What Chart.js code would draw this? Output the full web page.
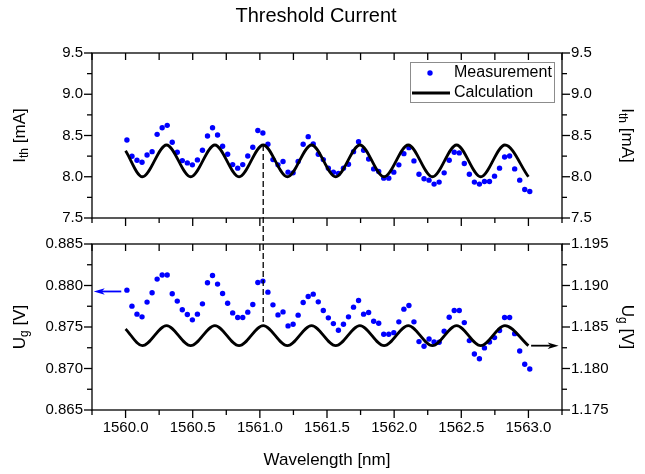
<!DOCTYPE html>
<html>
<head>
<meta charset="utf-8">
<title>Threshold Current</title>
<script src="https://cdn.jsdelivr.net/npm/chart.js@4.4.1/dist/chart.umd.min.js"></script>
<style>
  html, body { margin: 0; padding: 0; background: #fff; }
  #wrap { position: relative; width: 645px; height: 474px; }
  #wrap canvas { position: absolute; left: 0; top: 0; }
</style>
</head>
<body>
<div id="wrap">
  <canvas id="topPanel" width="645" height="474"></canvas>
  <canvas id="bottomPanel" width="645" height="474"></canvas>
</div>
<script>
// measured points (wavelength in nm)
const wavelength = [
  1560.0100, 1560.0475, 1560.0850, 1560.1225, 1560.1600, 1560.1975, 1560.2350, 1560.2725, 1560.3100, 1560.3475,
  1560.3850, 1560.4225, 1560.4600, 1560.4975, 1560.5350, 1560.5725, 1560.6100, 1560.6475, 1560.6850, 1560.7225,
  1560.7600, 1560.7975, 1560.8350, 1560.8725, 1560.9100, 1560.9475, 1560.9850, 1561.0225, 1561.0600, 1561.0975,
  1561.1350, 1561.1725, 1561.2100, 1561.2475, 1561.2850, 1561.3225, 1561.3600, 1561.3975, 1561.4350, 1561.4725,
  1561.5100, 1561.5475, 1561.5850, 1561.6225, 1561.6600, 1561.6975, 1561.7350, 1561.7725, 1561.8100, 1561.8475,
  1561.8850, 1561.9225, 1561.9600, 1561.9975, 1562.0350, 1562.0725, 1562.1100, 1562.1475, 1562.1850, 1562.2225,
  1562.2600, 1562.2975, 1562.3350, 1562.3725, 1562.4100, 1562.4475, 1562.4850, 1562.5225, 1562.5600, 1562.5975,
  1562.6350, 1562.6725, 1562.7100, 1562.7475, 1562.7850, 1562.8225, 1562.8600, 1562.8975, 1562.9350, 1562.9725,
  1563.0100
]
// I_th [mA]
const thresholdCurrent = [
  8.446, 8.249, 8.200, 8.176, 8.264, 8.304, 8.514, 8.594, 8.623, 8.418,
  8.297, 8.196, 8.168, 8.144, 8.204, 8.321, 8.494, 8.594, 8.506, 8.370,
  8.273, 8.147, 8.104, 8.147, 8.252, 8.357, 8.560, 8.530, 8.394, 8.208,
  8.144, 8.184, 8.056, 8.047, 8.184, 8.394, 8.486, 8.397, 8.273, 8.208,
  8.104, 8.056, 8.039, 8.104, 8.152, 8.304, 8.425, 8.321, 8.216, 8.095,
  8.063, 7.983, 7.983, 8.056, 8.144, 8.280, 8.353, 8.192, 8.031, 7.975,
  7.959, 7.911, 7.935, 8.047, 8.200, 8.297, 8.289, 8.160, 8.031, 7.935,
  7.911, 7.942, 7.942, 8.007, 8.104, 8.240, 8.252, 8.095, 7.959, 7.845,
  7.821
]
// U_g [V], left axis
const voltage = [
  0.87944, 0.87751, 0.87655, 0.87622, 0.87800, 0.87912, 0.88077, 0.88126, 0.88126, 0.87900,
  0.87812, 0.87707, 0.87650, 0.87586, 0.87655, 0.87779, 0.88033, 0.88121, 0.88017, 0.87903,
  0.87787, 0.87670, 0.87614, 0.87614, 0.87679, 0.87771, 0.88036, 0.88053, 0.87920, 0.87767,
  0.87646, 0.87682, 0.87513, 0.87534, 0.87643, 0.87795, 0.87867, 0.87896, 0.87803, 0.87698,
  0.87610, 0.87541, 0.87461, 0.87534, 0.87622, 0.87739, 0.87819, 0.87655, 0.87674, 0.87570,
  0.87546, 0.87413, 0.87413, 0.87432, 0.87562, 0.87715, 0.87759, 0.87562, 0.87324, 0.87268,
  0.87356, 0.87320, 0.87316, 0.87449, 0.87618, 0.87698, 0.87698, 0.87553, 0.87336, 0.87175,
  0.87118, 0.87248, 0.87320, 0.87372, 0.87457, 0.87614, 0.87614, 0.87420, 0.87211, 0.87051,
  0.86994
]

// calculation: start point then alternating minima / maxima
const calcWavelength = [
  1560.000, 1560.125, 1560.305, 1560.485, 1560.665, 1560.845, 1561.025, 1561.205, 1561.385,
  1561.565, 1561.745, 1561.925, 1562.105, 1562.285, 1562.465, 1562.645, 1562.825, 1563.000
]
const calcCurrent = [
  8.316, 8.000, 8.385, 8.000, 8.385, 8.000, 8.385, 8.000, 8.385,
  8.000, 8.385, 8.000, 8.385, 8.000, 8.385, 8.000, 8.385, 8.000
]
// U_g [V], right axis
const calcVoltage = [
  1.18477, 1.18275, 1.18517, 1.18275, 1.18517, 1.18275, 1.18517, 1.18275, 1.18517,
  1.18275, 1.18517, 1.18275, 1.18517, 1.18275, 1.18517, 1.18275, 1.18517, 1.18275
]

// dashed marker and axis arrows
const marker = { x: 1561.025, top: 8.385, bottom: 1.18517 }
const arrowLeft = { from: 1559.968, to: 1559.763, y: 0.87928 }
const arrowRight = { from: 1563.02, to: 1563.225, y: 1.18275 }

const xRange = [1559.75, 1563.25]
const ithRange = [7.5, 9.5]
const ugLeftRange = [0.865, 0.885]
const ugRightRange = [1.175, 1.195]

const FONT = "'Liberation Sans', Arial, sans-serif"
Chart.defaults.font.family = FONT
Chart.defaults.color = '#000'

// layout in px
const W = 645, H = 474
const plotLeft = 92, plotRight = 562
const topA = 53, bottomA = 218, topB = 244, bottomB = 410

const isStep = (v, step) => Math.abs(v / step - Math.round(v / step)) < 1e-6
const labelEvery = (step, dec) => v => isStep(v, step) ? v.toFixed(dec) : ''

function axis (pos, range, step, major, dec, size, showLabels) {
  const horizontal = pos === 'top' || pos === 'bottom'
  return {
    type: 'linear',
    position: pos,
    min: range[0],
    max: range[1],
    grid: { display: false, drawTicks: false },
    border: { display: false },
    ticks: {
      display: showLabels,
      stepSize: step,
      autoSkip: false,
      maxRotation: 0,
      padding: 9,
      font: { size: 15 },
      callback: labelEvery(major, dec)
    },
    afterFit: s => { if (horizontal) s.height = size; else s.width = size },
    _major: major
  }
}

function subLabel (ctx, parts, cx, cy, rot) {
  ctx.save()
  ctx.translate(cx, cy)
  ctx.rotate(rot)
  ctx.fillStyle = '#000'
  ctx.textBaseline = 'middle'
  ctx.textAlign = 'left'
  let w = 0
  parts.forEach(p => { ctx.font = (p[1] ? '12px ' : '17px ') + FONT; w += ctx.measureText(p[0]).width })
  let x = -w / 2
  parts.forEach(p => {
    ctx.font = (p[1] ? '12px ' : '17px ') + FONT
    ctx.fillText(p[0], x, p[1] ? 5 : 0)
    x += ctx.measureText(p[0]).width
  })
  ctx.restore()
}

// frame + inward/outward tick marks
const frameTicks = {
  id: 'frameTicks',
  afterDraw (chart, args, opts) {
    const { ctx, chartArea: a } = chart
    ctx.save()
    ctx.strokeStyle = '#000'
    ctx.lineWidth = 1.3
    ctx.strokeRect(a.left, a.top, a.right - a.left, a.bottom - a.top)
    Object.entries(opts.sides).forEach(([id, dir]) => {
      const s = chart.scales[id]
      const major = s.options._major
      s.ticks.forEach(t => {
        const v = t.value
        if (v < s.min - 1e-9 || v > s.max + 1e-9) return
        const big = isStep(v, major)
        const len = dir === 'in' ? 7 : (big ? 8 : 5)
        const p = s.getPixelForValue(v)
        ctx.beginPath()
        if (s.position === 'bottom') { ctx.moveTo(p, a.bottom); ctx.lineTo(p, a.bottom + len) }
        if (s.position === 'top') { ctx.moveTo(p, a.top); ctx.lineTo(p, a.top + (dir === 'in' ? len : -len)) }
        if (s.position === 'left') { ctx.moveTo(a.left, p); ctx.lineTo(a.left - len, p) }
        if (s.position === 'right') { ctx.moveTo(a.right, p); ctx.lineTo(a.right + len, p) }
        ctx.stroke()
      })
    })
    ctx.restore()
  }
}

const topDecor = {
  id: 'topDecor',
  afterDraw (chart) {
    const { ctx, chartArea: a } = chart
    ctx.save()
    ctx.fillStyle = '#000'
    ctx.textAlign = 'center'
    ctx.textBaseline = 'middle'
    ctx.font = '20px ' + FONT
    ctx.fillText('Threshold Current', 316, 16)

    // legend
    ctx.fillStyle = '#fff'
    ctx.fillRect(410.5, 62.5, 144, 40)
    ctx.strokeStyle = '#8c8c8c'
    ctx.lineWidth = 1
    ctx.strokeRect(410.5, 62.5, 144, 40)
    ctx.fillStyle = '#0000ff'
    ctx.beginPath(); ctx.arc(430, 73, 2.7, 0, Math.PI * 2); ctx.fill()
    ctx.strokeStyle = '#000'
    ctx.lineWidth = 2.8
    ctx.beginPath(); ctx.moveTo(412, 93); ctx.lineTo(450, 93); ctx.stroke()
    ctx.fillStyle = '#000'
    ctx.textAlign = 'left'
    ctx.font = '16px ' + FONT
    ctx.fillText('Measurement', 454, 73)
    ctx.fillText('Calculation', 454, 93)
    ctx.restore()

    const cy = (a.top + a.bottom) / 2
    subLabel(ctx, [['I', 0], ['th', 1], [' [mA]', 0]], 20, cy, -Math.PI / 2)
    subLabel(ctx, [['I', 0], ['th', 1], [' [mA]', 0]], 627, cy, Math.PI / 2)
  }
}

function arrow (ctx, x0, x1, y, color) {
  const dir = Math.sign(x1 - x0)
  ctx.save()
  ctx.strokeStyle = color
  ctx.fillStyle = color
  ctx.lineWidth = 1.8
  ctx.beginPath(); ctx.moveTo(x0, y); ctx.lineTo(x1 - dir * 8, y); ctx.stroke()
  ctx.beginPath()
  ctx.moveTo(x1, y)
  ctx.lineTo(x1 - dir * 11, y - 3.2)
  ctx.lineTo(x1 - dir * 8, y)
  ctx.lineTo(x1 - dir * 11, y + 3.2)
  ctx.closePath()
  ctx.fill()
  ctx.restore()
}

const topChart = new Chart(document.getElementById('topPanel'), {
  type: 'scatter',
  data: {
    datasets: [
      {
        label: 'Measurement',
        data: wavelength.map((x, i) => ({ x, y: thresholdCurrent[i] })),
        pointRadius: 2.7,
        pointBorderWidth: 0,
        pointBackgroundColor: '#0000ff',
        order: 1
      },
      {
        label: 'Calculation',
        data: calcWavelength.map((x, i) => ({ x, y: calcCurrent[i] })),
        showLine: true,
        cubicInterpolationMode: 'monotone',
        borderColor: '#000',
        borderWidth: 2.8,
        pointRadius: 0,
        order: 0
      }
    ]
  },
  options: {
    responsive: false,
    animation: false,
    events: [],
    layout: { padding: 0 },
    plugins: {
      legend: { display: false },
      tooltip: { enabled: false },
      frameTicks: { sides: { x: 'out', xTop: 'in', y: 'out', y2: 'out' } }
    },
    scales: {
      x: axis('bottom', xRange, 0.25, 0.5, 1, H - bottomA, false),
      xTop: axis('top', xRange, 0.25, 0.5, 1, topA, false),
      y: axis('left', ithRange, 0.25, 0.5, 1, plotLeft, true),
      y2: axis('right', ithRange, 0.25, 0.5, 1, W - plotRight, true)
    }
  },
  plugins: [frameTicks, topDecor]
})

const bottomDecor = {
  id: 'bottomDecor',
  afterDraw (chart) {
    const { ctx, chartArea: a, scales } = chart
    const cy = (a.top + a.bottom) / 2
    subLabel(ctx, [['U', 0], ['g', 1], [' [V]', 0]], 20, cy, -Math.PI / 2)
    subLabel(ctx, [['U', 0], ['g', 1], [' [V]', 0]], 627, cy, Math.PI / 2)

    ctx.save()
    ctx.fillStyle = '#000'
    ctx.textAlign = 'center'
    ctx.textBaseline = 'middle'
    ctx.font = '17px ' + FONT
    ctx.fillText('Wavelength [nm]', (a.left + a.right) / 2, 460)

    // dashed marker linking the two panels
    const mx = scales.x.getPixelForValue(marker.x)
    ctx.strokeStyle = '#000'
    ctx.lineWidth = 1.3
    ctx.setLineDash([6, 3])
    ctx.beginPath()
    ctx.moveTo(mx, topChart.scales.y.getPixelForValue(marker.top))
    ctx.lineTo(mx, scales.y2.getPixelForValue(marker.bottom))
    ctx.stroke()
    ctx.restore()

    arrow(ctx, scales.x.getPixelForValue(arrowLeft.from), scales.x.getPixelForValue(arrowLeft.to),
      scales.y.getPixelForValue(arrowLeft.y), '#0000ff')
    arrow(ctx, scales.x.getPixelForValue(arrowRight.from), scales.x.getPixelForValue(arrowRight.to),
      scales.y2.getPixelForValue(arrowRight.y), '#000')
  }
}

new Chart(document.getElementById('bottomPanel'), {
  type: 'scatter',
  data: {
    datasets: [
      {
        label: 'Measurement',
        data: wavelength.map((x, i) => ({ x, y: voltage[i] })),
        yAxisID: 'y',
        pointRadius: 2.7,
        pointBorderWidth: 0,
        pointBackgroundColor: '#0000ff',
        order: 1
      },
      {
        label: 'Calculation',
        data: calcWavelength.map((x, i) => ({ x, y: calcVoltage[i] })),
        yAxisID: 'y2',
        showLine: true,
        cubicInterpolationMode: 'monotone',
        borderColor: '#000',
        borderWidth: 2.8,
        pointRadius: 0,
        order: 0
      }
    ]
  },
  options: {
    responsive: false,
    animation: false,
    events: [],
    layout: { padding: 0 },
    plugins: {
      legend: { display: false },
      tooltip: { enabled: false },
      frameTicks: { sides: { x: 'out', xTop: 'in', y: 'out', y2: 'out' } }
    },
    scales: {
      x: axis('bottom', xRange, 0.25, 0.5, 1, H - bottomB, true),
      xTop: axis('top', xRange, 0.25, 0.5, 1, topB, false),
      y: axis('left', ugLeftRange, 0.0025, 0.005, 3, plotLeft, true),
      y2: axis('right', ugRightRange, 0.0025, 0.005, 3, W - plotRight, true)
    }
  },
  plugins: [frameTicks, bottomDecor]
})
</script>
</body>
</html>
